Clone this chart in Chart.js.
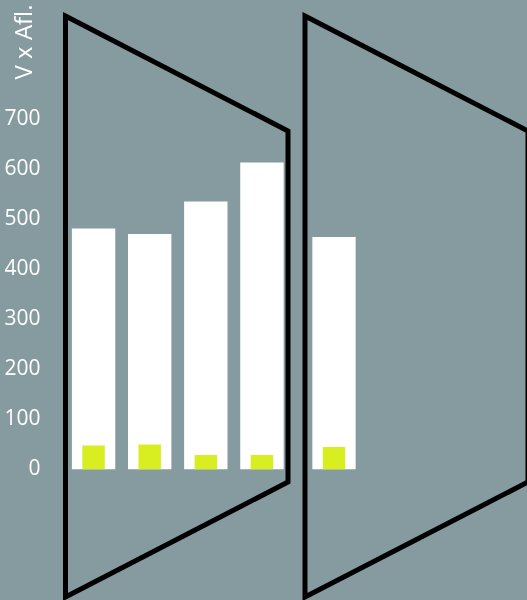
<!DOCTYPE html>
<html>
<head>
<meta charset="utf-8">
<script src="https://cdn.jsdelivr.net/npm/chart.js@4"></script>
<style>
    html, body { margin: 0; padding: 0; width: 527px; height: 600px; overflow: hidden; background: #869ba0; }
    #wrap { position: relative; width: 527px; height: 600px; }
    #leftBox { position: absolute; left: 0; top: 0; width: 290px; height: 600px; }
    #rightBox { position: absolute; left: 306px; top: 0; width: 224px; height: 600px; }
    #frames { position: absolute; left: 0; top: 0; pointer-events: none; }
</style>
</head>
<body>
<div id="wrap">
    <div id="leftBox"><canvas id="leftChart"></canvas></div>
    <div id="rightBox"><canvas id="rightChart"></canvas></div>
    <svg id="frames" width="527" height="600">
        <polygon points="65.5,16 288,131 288,482 65.5,597" fill="none" stroke="#000" stroke-width="5" stroke-linejoin="miter"/>
        <polygon points="305,16 528,131 528,482 305,597" fill="none" stroke="#000" stroke-width="5" stroke-linejoin="miter"/>
    </svg>
</div>
<script>
const leftCategories = ['1', '2', '3', '4'];
const leftTotal = [482, 471, 536, 614];
const leftPart = [48, 50, 29, 29];

const rightCategories = ['5', '6', '7', '8'];
const rightTotal = [465, null, null, null];
const rightPart = [45, null, null, null];

const yTicksShown = 700;
const yMax = 930;

const white = '#ffffff';
const yellow = '#d9ee21';
const fontFamily = "'Open Sans', sans-serif";

function makeDatasets(total, part) {
    return [
        {
            label: 'part',
            data: part,
            backgroundColor: yellow,
            barPercentage: 0.4,
            categoryPercentage: 1,
            grouped: false,
            order: 0
        },
        {
            label: 'total',
            data: total,
            backgroundColor: white,
            barPercentage: 0.773,
            categoryPercentage: 1,
            grouped: false,
            order: 1
        }
    ];
}

function baseOptions(showAxis) {
    return {
        responsive: true,
        maintainAspectRatio: false,
        animation: false,
        layout: { padding: { left: 0, right: 0, top: 4.5, bottom: 130.5 } },
        plugins: {
            legend: { display: false },
            tooltip: { enabled: false }
        },
        scales: {
            x: { display: false },
            y: {
                display: showAxis,
                min: 0,
                max: yMax,
                grid: { display: false, drawTicks: false },
                border: { display: false },
                ticks: {
                    stepSize: 100,
                    color: white,
                    padding: 25,
                    font: { family: fontFamily, size: 21 },
                    callback: function(value) {
                        return value <= yTicksShown ? value : null;
                    }
                },
                title: {
                    display: true,
                    text: 'V x Afl.',
                    color: white,
                    align: 'end',
                    padding: { top: 11, bottom: 0 },
                    font: { family: fontFamily, size: 24 }
                },
                afterFit: function(scale) {
                    if (showAxis) scale.width = 65.5;
                    scale.paddingTop = 0;
                    scale.paddingBottom = 0;
                }
            }
        }
    };
}

new Chart(document.getElementById('leftChart').getContext('2d'), {
    type: 'bar',
    data: { labels: leftCategories, datasets: makeDatasets(leftTotal, leftPart) },
    options: baseOptions(true)
});

new Chart(document.getElementById('rightChart').getContext('2d'), {
    type: 'bar',
    data: { labels: rightCategories, datasets: makeDatasets(rightTotal, rightPart) },
    options: baseOptions(false)
});
</script>
</body>
</html>
